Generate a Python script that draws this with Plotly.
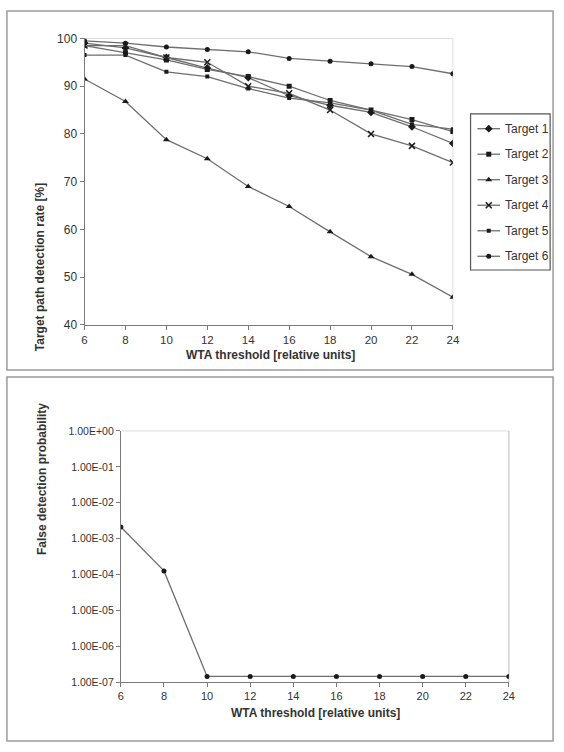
import plotly.graph_objects as go

# ---------------- data ----------------
wta = [6, 8, 10, 12, 14, 16, 18, 20, 22, 24]
target1 = [99.0, 98.0, 96.0, 93.8, 91.8, 88.0, 86.0, 84.5, 81.5, 78.0]
target2 = [98.5, 97.0, 95.5, 93.5, 92.0, 90.0, 87.0, 85.0, 83.0, 80.5]
target3 = [91.5, 86.8, 78.8, 74.8, 69.0, 64.8, 59.5, 54.3, 50.6, 45.8]
target4 = [98.5, 98.5, 96.0, 95.0, 90.0, 88.5, 85.0, 80.0, 77.5, 74.0]
target5 = [96.5, 96.5, 93.0, 92.0, 89.5, 87.5, 86.5, 85.0, 82.0, 81.0]
target6 = [99.5, 99.0, 98.2, 97.7, 97.2, 95.8, 95.2, 94.7, 94.1, 92.6]
series_names = ["Target 1", "Target 2", "Target 3", "Target 4", "Target 5", "Target 6"]
false_prob = [2.1e-3, 1.26e-4, 1.45e-7, 1.45e-7, 1.45e-7, 1.45e-7, 1.45e-7, 1.45e-7, 1.45e-7, 1.45e-7]
log_tickvals = [1e0, 1e-1, 1e-2, 1e-3, 1e-4, 1e-5, 1e-6, 1e-7]
log_ticktext = ["1.00E+00", "1.00E-01", "1.00E-02", "1.00E-03", "1.00E-04", "1.00E-05", "1.00E-06", "1.00E-07"]
pct_ticks = [40, 50, 60, 70, 80, 90, 100]

W, H = 564, 752
FONT = "Liberation Sans, Arial, sans-serif"
LINE_C = "#6e6e6e"
MARK_C = "#1a1a1a"
AX_C = "#7a7a7a"
TXT_C = "#333333"

symbols = ["diamond", "square", "triangle-up", "x-thin-open", "square", "circle"]
msizes = [6, 5, 6, 6, 4, 5]

def mk(sym, ms):
    return dict(symbol=sym, size=ms, color=MARK_C,
                line=dict(color=MARK_C, width=1.5 if "x" in sym else 0))

fig = go.Figure()
for name, vals, sym, ms in zip(series_names,
                               [target1, target2, target3, target4, target5, target6],
                               symbols, msizes):
    fig.add_trace(go.Scatter(x=wta, y=vals, name=name, mode="lines+markers",
                             line=dict(color=LINE_C, width=1.3),
                             marker=mk(sym, ms), showlegend=False,
                             xaxis="x", yaxis="y"))

fig.add_trace(go.Scatter(x=wta, y=false_prob, mode="lines+markers", showlegend=False,
                         line=dict(color=LINE_C, width=1.3),
                         marker=dict(symbol="circle", size=5, color=MARK_C),
                         xaxis="x2", yaxis="y2"))

# ---- manual legend (layout in pixel space on an overlay axis) ----
LEG_X0, LEG_X1, LEG_Y0, LEG_Y1 = 476, 557, 109, 268
LEG_FIRST, LEG_STEP = 124, 26
for i, (name, sym, ms) in enumerate(zip(series_names, symbols, msizes)):
    yy = LEG_FIRST + LEG_STEP * i
    fig.add_trace(go.Scatter(x=[483, 506], y=[yy, yy], mode="lines",
                             line=dict(color=LINE_C, width=1.3), showlegend=False,
                             hoverinfo="skip", xaxis="x3", yaxis="y3"))
    fig.add_trace(go.Scatter(x=[494.5], y=[yy], mode="markers", marker=mk(sym, ms),
                             showlegend=False, hoverinfo="skip", xaxis="x3", yaxis="y3"))

def px(x):
    return x / W

def py(y):
    return 1 - y / H

def axis_style(size):
    return dict(showgrid=False, zeroline=False, showline=True, linecolor=AX_C,
                linewidth=1, ticks="outside", ticklen=4, tickcolor=AX_C,
                tickfont=dict(family=FONT, size=size, color=TXT_C))

fig.update_layout(
    width=W, height=H,
    margin=dict(l=0, r=0, t=0, b=0),
    paper_bgcolor="white", plot_bgcolor="rgba(0,0,0,0)",
    font=dict(family=FONT, color=TXT_C),
    xaxis=dict(domain=[px(83), px(458)], range=[6, 24], tickvals=wta,
               anchor="y", **axis_style(11.5)),
    yaxis=dict(domain=[py(324), py(32)], range=[40, 100], tickvals=pct_ticks,
               anchor="x", **axis_style(12)),
    xaxis2=dict(domain=[px(120), px(515)], range=[6, 24], tickvals=wta,
                anchor="y2", **axis_style(11)),
    yaxis2=dict(domain=[py(688), py(432)], type="log", range=[-7, 0],
                tickvals=log_tickvals, ticktext=log_ticktext, anchor="x2",
                **axis_style(10.5)),
    xaxis3=dict(domain=[0, 1], range=[0, W], visible=False, fixedrange=True, anchor="y3"),
    yaxis3=dict(domain=[0, 1], range=[H, 0], visible=False, fixedrange=True, anchor="x3"),
    showlegend=False,
)

shapes = [
    # panel frames
    dict(type="rect", xref="paper", yref="paper", x0=px(4), x1=px(560), y0=py(370), y1=py(4),
         line=dict(color="#9a9a9a", width=1.5), layer="below"),
    dict(type="rect", xref="paper", yref="paper", x0=px(4), x1=px(560), y0=py(748), y1=py(377),
         line=dict(color="#9a9a9a", width=1.5), layer="below"),
    # faint plot area borders (top/right)
    dict(type="line", xref="paper", yref="paper", x0=px(83), x1=px(458), y0=py(32), y1=py(32),
         line=dict(color="#dcdcdc", width=1), layer="below"),
    dict(type="line", xref="paper", yref="paper", x0=px(458), x1=px(458), y0=py(324), y1=py(32),
         line=dict(color="#dcdcdc", width=1), layer="below"),
    dict(type="line", xref="paper", yref="paper", x0=px(120), x1=px(515), y0=py(432), y1=py(432),
         line=dict(color="#dcdcdc", width=1), layer="below"),
    dict(type="line", xref="paper", yref="paper", x0=px(515), x1=px(515), y0=py(688), y1=py(432),
         line=dict(color="#bdbdbd", width=1), layer="below"),
    # legend box
    dict(type="rect", xref="paper", yref="paper", x0=px(LEG_X0), x1=px(LEG_X1),
         y0=py(LEG_Y1), y1=py(LEG_Y0), line=dict(color="#555555", width=1.2), layer="below"),
]
fig.update_layout(shapes=shapes)

title_font = dict(family=FONT, size=12, color=TXT_C)
annotations = [
    dict(text="<b>Target path detection rate [%]</b>", xref="paper", yref="paper",
         x=px(28), y=py(178), textangle=-90, showarrow=False, font=title_font),
    dict(text="<b>WTA threshold [relative units]</b>", xref="paper", yref="paper",
         x=px(272), y=py(355), showarrow=False, font=title_font),
    dict(text="<b>False detection probability</b>", xref="paper", yref="paper",
         x=px(30), y=py(560), textangle=-90, showarrow=False, font=title_font),
    dict(text="<b>WTA threshold [relative units]</b>", xref="paper", yref="paper",
         x=px(318), y=py(729), showarrow=False, font=title_font),
]
for i, name in enumerate(series_names):
    annotations.append(dict(text=name, xref="paper", yref="paper", x=px(509),
                            y=py(LEG_FIRST + LEG_STEP * i), xanchor="left", yanchor="middle",
                            showarrow=False, font=dict(family=FONT, size=12, color=TXT_C)))
fig.update_layout(annotations=annotations)

fig.write_html("out.html", config={"displayModeBar": False},
               post_script="document.body.style.margin='0';document.body.style.overflow='hidden';")
